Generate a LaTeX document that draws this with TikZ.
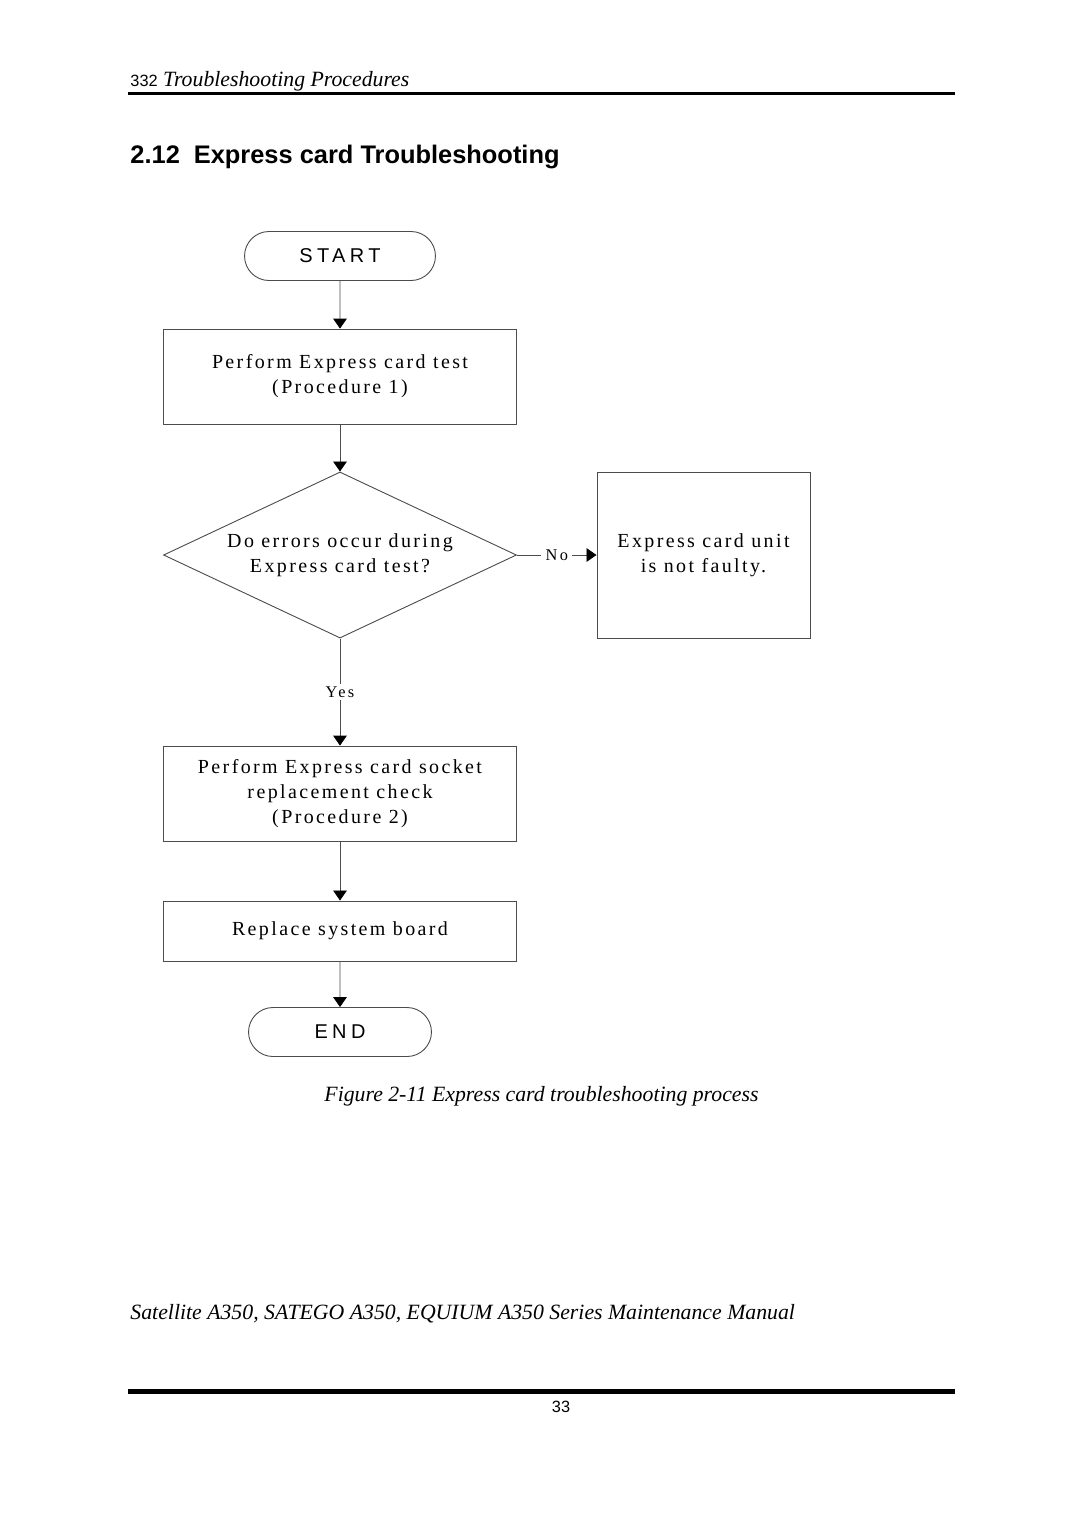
\documentclass[tikz,border=0pt]{standalone}
\usepackage{fontspec}
\setmainfont{Liberation Serif}
\setsansfont{Liberation Sans}
\usetikzlibrary{shapes.geometric,shapes.misc,arrows.meta}
\newcommand\boxfont{\fontsize{11}{13.8}\selectfont\addfontfeature{LetterSpace=12}}
\newcommand\termfont{\sffamily\fontsize{11}{13}\selectfont\addfontfeature{LetterSpace=22}}
\newcommand\lblfont{\fontsize{9}{10}\selectfont\addfontfeature{LetterSpace=15}}
\begin{document}
\begin{tikzpicture}
  [x=0.551pt,y=-0.551pt,line width=0.5pt,
   every node/.style={inner sep=0pt},
   term/.style={draw=black!70,rounded rectangle,minimum height=27pt,font=\termfont},
   proc/.style={draw=black!70,rectangle,minimum width=194.5pt,align=center,font=\boxfont},
   dec/.style={draw=black!70,diamond,aspect=2.13,minimum width=194.5pt,minimum height=91.5pt,align=center,font=\boxfont},
   lbl/.style={fill=white,inner xsep=2.5pt,inner ysep=1.5pt,font=\lblfont},
   conn/.style={draw=black!70,-{Triangle[width=7.5pt,length=5.5pt,color=black]}}]
  \path[fill=white] (0,0) rectangle (1080,1527);
  \useasboundingbox (0,0) rectangle (1080,1527);

  % page head
  \node[anchor=base west,font=\fontsize{12}{14}\selectfont\itshape] (head) at (130,86)
    {{\upshape\sffamily\fontsize{9}{10}\selectfont 332} Troubleshooting Procedures};
  \draw[line width=1.65pt] (128,93.5) -- (955,93.5);
  \node[anchor=base west,font=\sffamily\bfseries\fontsize{14}{16}\selectfont] (title) at (130,163)
    {2.12\hspace{0.55em}Express card Troubleshooting};

  % flow chart
  \node[term,minimum width=105.2pt] (start) at (340,256) {START};
  \node[proc,minimum height=52.3pt] (test) at (340,376.5) {Perform Express card test\\(Procedure 1)};
  \node[dec] (err) at (340,555) {Do errors occur during\\Express card test?};
  \node[proc,minimum width=117.4pt,minimum height=91.5pt] (ok) at (703.5,555) {Express card unit\\is not faulty.};
  \node[proc,minimum height=52.3pt] (sock) at (340,793.5) {Perform Express card socket\\replacement check\\(Procedure 2)};
  \node[proc,minimum height=33.1pt] (board) at (340,931) {Replace system board};
  \node[term,minimum width=100.8pt] (stop) at (340,1032) {END};

  \foreach \from/\to in {start/test,test/err,sock/board,board/stop}
    \draw[conn] (\from) -- (\to);
  \draw[conn] (err) -- node[lbl] {No} (ok);
  \draw[conn] (err) -- node[lbl] {Yes} (sock);

  % caption and page foot
  \node[anchor=base,font=\fontsize{12}{14}\selectfont\itshape] (cap) at (541.5,1101)
    {Figure 2-11 Express card troubleshooting process};
  \node[anchor=base west,font=\fontsize{12}{14}\selectfont\itshape] (foot) at (130,1319)
    {Satellite A350, SATEGO A350, EQUIUM A350 Series Maintenance Manual};
  \draw[line width=2.3pt] (128,1391.5) -- (955,1391.5);
  \node[anchor=base,font=\sffamily\fontsize{9}{10}\selectfont] (pnum) at (561,1412) {33};
\end{tikzpicture}
\end{document}
